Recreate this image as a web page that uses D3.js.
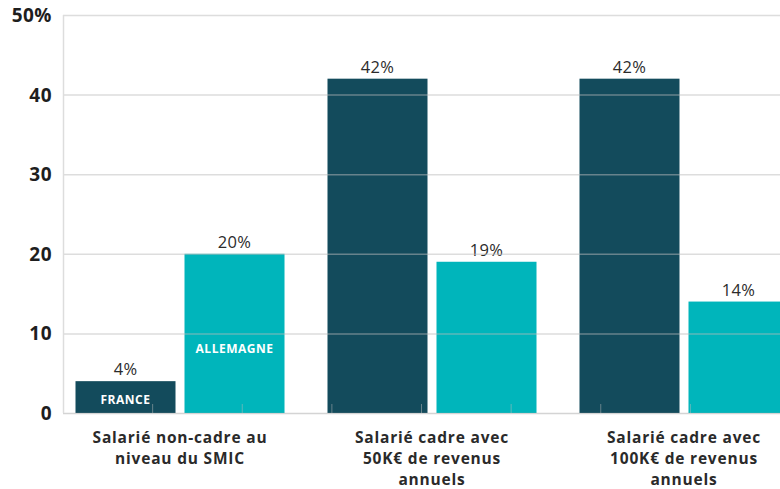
<!DOCTYPE html>
<html>
<head>
<meta charset="utf-8">
<script src="https://cdn.jsdelivr.net/npm/d3@7"></script>
<style>
  body { margin: 0; background: #fff; }
  svg { display: block; font-family: "Open Sans", sans-serif; }
</style>
</head>
<body>
<div id="chart"></div>
<script>
// Data
const categories = [
  ["Salarié non-cadre au", "niveau du SMIC"],
  ["Salarié cadre avec", "50K€ de revenus", "annuels"],
  ["Salarié cadre avec", "100K€ de revenus", "annuels"]
];
const countries = ["FRANCE", "ALLEMAGNE"];
const france = [4, 42, 42];
const allemagne = [20, 19, 14];
const yTicks = [0, 10, 20, 30, 40, 50];

const width = 780;
const height = 489;
const margin = {top: 15, right: 0, bottom: 76, left: 63};

const colors = {FRANCE: "#134b5c", ALLEMAGNE: "#00b5bb"};

const svg = d3.create("svg")
    .attr("width", width)
    .attr("height", height);

const y = d3.scaleLinear()
    .domain([0, 50])
    .range([height - margin.bottom, margin.top]);

// group scale, a bit wider than the view so the last bar gets cut at the edge
const x0 = d3.scaleBand()
    .domain(d3.range(categories.length))
    .range([50.3, 813.7])
    .paddingInner(0.1706)
    .paddingOuter(0.1);

const x1 = d3.scaleBand()
    .domain(countries)
    .range([0, x0.bandwidth()])
    .paddingInner(0.0826);

const rows = categories.map((c, i) => ({i, values: [
  {key: "FRANCE", value: france[i]},
  {key: "ALLEMAGNE", value: allemagne[i]}
]}));

// bars
const group = svg.append("g")
  .selectAll("g")
  .data(rows)
  .join("g")
    .attr("transform", d => `translate(${x0(d.i)},0)`);

group.selectAll("rect")
  .data(d => d.values)
  .join("rect")
    .attr("x", d => x1(d.key))
    .attr("y", d => y(d.value))
    .attr("width", x1.bandwidth())
    .attr("height", d => y(0) - y(d.value))
    .attr("fill", d => colors[d.key]);

// value labels
group.selectAll(".val")
  .data(d => d.values)
  .join("text")
    .attr("class", "val")
    .attr("x", d => x1(d.key) + x1.bandwidth() / 2)
    .attr("y", d => y(d.value) - 6)
    .attr("text-anchor", "middle")
    .attr("font-size", 16.5)
    .attr("letter-spacing", 0.3)
    .attr("fill", "#2b2b2b")
    .text(d => d.value + "%");

// series names inside the first group
const firstGroup = group.filter(d => d.i === 0);
firstGroup.append("text")
    .attr("x", x1("FRANCE") + x1.bandwidth() / 2)
    .attr("y", y(1.1))
    .attr("text-anchor", "middle")
    .attr("font-size", 12)
    .attr("letter-spacing", 0.5)
    .attr("font-weight", 700)
    .attr("fill", "#fff")
    .text("FRANCE");
firstGroup.append("text")
    .attr("x", x1("ALLEMAGNE") + x1.bandwidth() / 2)
    .attr("y", y(7.6))
    .attr("text-anchor", "middle")
    .attr("font-size", 12)
    .attr("letter-spacing", 0.5)
    .attr("font-weight", 700)
    .attr("fill", "#fff")
    .text("ALLEMAGNE");

// grid lines, drawn over the bars
svg.append("g")
  .selectAll("line")
  .data(yTicks)
  .join("line")
    .attr("x1", margin.left)
    .attr("x2", width)
    .attr("y1", d => y(d) + 0.5)
    .attr("y2", d => y(d) + 0.5)
    .attr("stroke", d => d === 0 ? "#aaa" : "#bbb")
    .attr("stroke-opacity", 0.5)
    .attr("stroke-width", 1.5);

// left axis line
svg.append("line")
    .attr("x1", margin.left + 0.5)
    .attr("x2", margin.left + 0.5)
    .attr("y1", y(50))
    .attr("y2", y(0))
    .attr("stroke", "#ddd")
    .attr("stroke-width", 1.5);

// small bottom ticks
const xt = d3.scaleLinear().domain([0, 8]).range([margin.left, width]);
svg.append("g")
  .selectAll("line")
  .data(d3.range(1, 8))
  .join("line")
    .attr("x1", d => xt(d))
    .attr("x2", d => xt(d))
    .attr("y1", y(0) - 9)
    .attr("y2", y(0))
    .attr("stroke", "#bbb")
    .attr("stroke-opacity", 0.5);

// y labels
svg.append("g")
  .selectAll("text")
  .data(yTicks)
  .join("text")
    .attr("x", 52)
    .attr("y", d => y(d) + 7)
    .attr("text-anchor", "end")
    .attr("font-size", 19)
    .attr("letter-spacing", 0.5)
    .attr("font-weight", 700)
    .attr("fill", "#1e1e1e")
    .text(d => d === 50 ? "50%" : d);

// category labels
const cat = svg.append("g")
  .selectAll("text")
  .data(categories)
  .join("text")
    .attr("x", (d, i) => x0(i) + x0.bandwidth() / 2)
    .attr("y", 443)
    .attr("text-anchor", "middle")
    .attr("font-size", 15.5)
    .attr("letter-spacing", 0.8)
    .attr("font-weight", 700)
    .attr("fill", "#2a2a2a");
cat.selectAll("tspan")
  .data(d => d)
  .join("tspan")
    .attr("x", function() { return this.parentNode.getAttribute("x"); })
    .attr("dy", (d, i) => i === 0 ? 0 : 21.2)
    .text(d => d);

d3.select("#chart").node().appendChild(svg.node());
</script>
</body>
</html>
